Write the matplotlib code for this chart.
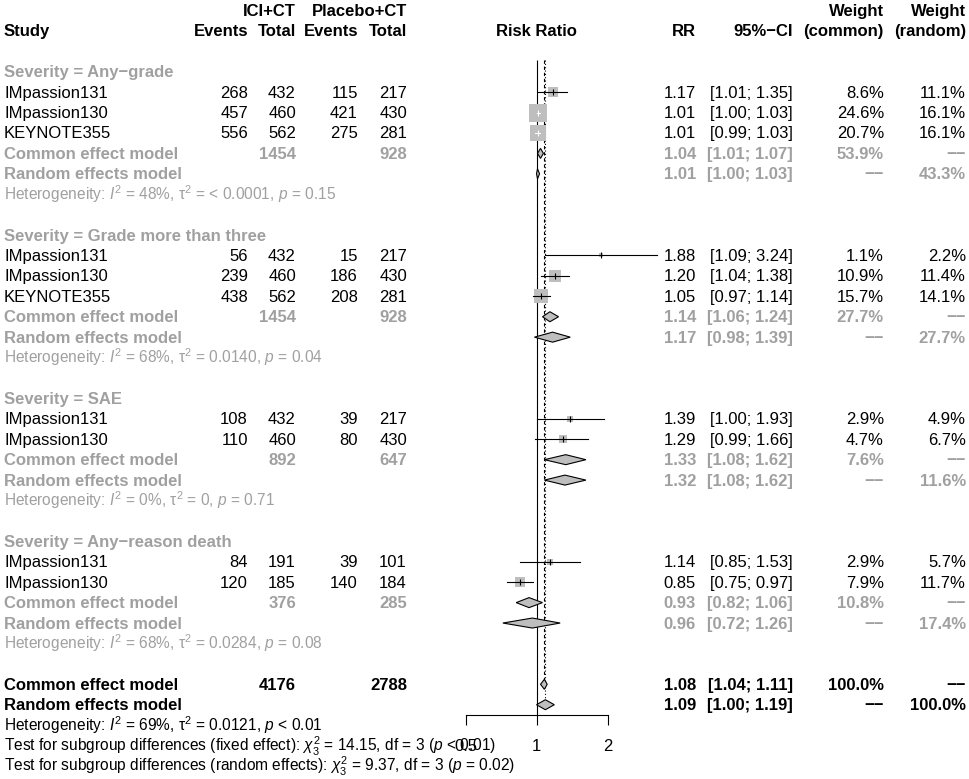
import matplotlib
matplotlib.use('Agg')
import matplotlib.pyplot as plt
from matplotlib.patches import Polygon
from matplotlib.ticker import NullLocator

plt.rcParams['font.family'] = ['Liberation Sans', 'DejaVu Sans']
plt.rcParams['mathtext.fontset'] = 'custom'
plt.rcParams['mathtext.rm'] = 'Liberation Sans'
plt.rcParams['mathtext.it'] = 'Liberation Sans:italic'
plt.rcParams['mathtext.bf'] = 'Liberation Sans:bold'

# ---------------- data ----------------
subgroups = ["Any\u2212grade", "Grade more than three", "SAE", "Any\u2212reason death"]
study_names = [["IMpassion131", "IMpassion130", "KEYNOTE355"],
               ["IMpassion131", "IMpassion130", "KEYNOTE355"],
               ["IMpassion131", "IMpassion130"],
               ["IMpassion131", "IMpassion130"]]
ici_events = [[268, 457, 556], [56, 239, 438], [108, 110], [84, 120]]
ici_total = [[432, 460, 562], [432, 460, 562], [432, 460], [191, 185]]
pla_events = [[115, 421, 275], [15, 186, 208], [39, 80], [39, 140]]
pla_total = [[217, 430, 281], [217, 430, 281], [217, 430], [101, 184]]
rr = [[1.17, 1.01, 1.01], [1.88, 1.20, 1.05], [1.39, 1.29], [1.14, 0.85]]
rr_lo = [[1.01, 1.00, 0.99], [1.09, 1.04, 0.97], [1.00, 0.99], [0.85, 0.75]]
rr_hi = [[1.35, 1.03, 1.03], [3.24, 1.38, 1.14], [1.93, 1.66], [1.53, 0.97]]
w_common = [[8.6, 24.6, 20.7], [1.1, 10.9, 15.7], [2.9, 4.7], [2.9, 7.9]]
w_random = [[11.1, 16.1, 16.1], [2.2, 11.4, 14.1], [4.9, 6.7], [5.7, 11.7]]
sub_total_ici = [1454, 1454, 892, 376]
sub_total_pla = [928, 928, 647, 285]
sub_common = [(1.04, 1.01, 1.07), (1.14, 1.06, 1.24), (1.33, 1.08, 1.62), (0.93, 0.82, 1.06)]
sub_common_w = [53.9, 27.7, 7.6, 10.8]
sub_random = [(1.01, 1.00, 1.03), (1.17, 0.98, 1.39), (1.32, 1.08, 1.62), (0.96, 0.72, 1.26)]
sub_random_w = [43.3, 27.7, 11.6, 17.4]
het_I2 = ["48%", "68%", "0%", "68%"]
het_tau2 = ["< 0.0001", "0.0140", "0", "0.0284"]
het_p = ["= 0.15", "= 0.04", "= 0.71", "= 0.08"]
overall_total_ici = 4176
overall_total_pla = 2788
overall_common = (1.08, 1.04, 1.11)
overall_random = (1.09, 1.00, 1.19)
overall_het = ("69%", "0.0121", "< 0.01")
test_fixed = ("14.15", "3", "< 0.01")
test_random = ("9.37", "3", "= 0.02")
x_ticks = [0.5, 1, 2]
x_ticklabels = ["0.5", "1", "2"]
missing = "\u2212\u2212"

# ---------------- layout / style ----------------
W, H = 969, 779
Y0, DY = 71.7, 20.42
AXIS_Y = 715
GRAY = '#A0A0A0'
FILL = '#BEBEBE'
FS = 12
FS_SMALL = 11.2
X_STUDY, X_E1, X_T1, X_E2, X_T2 = 4, 248, 296, 358, 407
X_RR, X_CI, X_WC, X_WR = 696, 793, 884, 966
X_FOREST = 536.5

fig = plt.figure(figsize=(W / 100, H / 100), dpi=100)
ax = fig.add_axes([0, 0, 1, 1])
ax.set_xlim(0, W)
ax.set_ylim(H, 0)
ax.axis('off')

fax = fig.add_axes([465.5 / W, (H - AXIS_Y) / H, 142 / W, AXIS_Y / H])
fax.set_xscale('log', base=2)
fax.set_xlim(0.5, 2)
fax.set_ylim(AXIS_Y, 0)
fax.patch.set_visible(False)
for s in ['top', 'left', 'right']:
    fax.spines[s].set_visible(False)
fax.spines['bottom'].set_linewidth(0.8)
fax.set_yticks([])
fax.set_xticks(x_ticks)
fax.set_xticklabels(x_ticklabels)
fax.xaxis.set_minor_locator(NullLocator())
fax.tick_params(axis='x', length=7.2, width=0.8, labelsize=FS, pad=10)


def rowy(k):
    return Y0 + DY * k


def put(x, k, s, ha='right', bold=False, color='black', size=FS, yoff=0):
    ax.text(x, rowy(k) + 5.5 + yoff, s, ha=ha, va='baseline',
            fontsize=size, fontweight='bold' if bold else 'normal', color=color)


def study_mark(est, lo, hi, w, y):
    side2 = 6.1 * w
    fax.scatter([est], [y], marker='s', s=side2, c=FILL, linewidths=0, zorder=3, clip_on=False)
    half = (side2 ** 0.5) * 100 / 72 / 2
    px_e = fax.transData.transform((est, y))[0]
    px_l = fax.transData.transform((lo, y))[0]
    px_h = fax.transData.transform((hi, y))[0]
    inside = (px_e - px_l) < half and (px_h - px_e) < half
    col = 'white' if inside else 'black'
    fax.plot([lo, hi], [y, y], color=col, lw=0.8, zorder=4, clip_on=False)
    fax.plot([est], [y], marker='|', ms=5, mew=0.8, color=col, zorder=4, clip_on=False)


def diamond(est, lo, hi, y, h=5):
    fax.add_patch(Polygon([(lo, y), (est, y - h), (hi, y), (est, y + h)], closed=True,
                          fc=FILL, ec='black', lw=0.8, zorder=5, clip_on=False))


def het_text(i2, tau2, p):
    return r"Heterogeneity: $I^2$ = " + i2 + ", \u03c4$^2$ = " + tau2 + r", $p$ " + p


# headers
put(X_T1, -3, "ICI+CT", bold=True)
put(X_T2, -3, "Placebo+CT", bold=True)
put(X_WC, -3, "Weight", bold=True)
put(X_WR, -3, "Weight", bold=True)
put(X_STUDY, -2, "Study", ha='left', bold=True)
put(X_E1, -2, "Events", bold=True)
put(X_T1, -2, "Total", bold=True)
put(X_E2, -2, "Events", bold=True)
put(X_T2, -2, "Total", bold=True)
put(X_FOREST, -2, "Risk Ratio", ha='center', bold=True)
put(X_RR, -2, "RR", bold=True)
put(X_CI, -2, "95%\u2212CI", bold=True)
put(X_WC, -2, "(common)", bold=True)
put(X_WR, -2, "(random)", bold=True)


def fmt_ci(lo, hi):
    return f"[{lo:.2f}; {hi:.2f}]"


k = 0
for g, name in enumerate(subgroups):
    put(X_STUDY, k, f"Severity = {name}", ha='left', bold=True, color=GRAY)
    k += 1
    for i, st in enumerate(study_names[g]):
        put(X_STUDY, k, st, ha='left')
        put(X_E1, k, str(ici_events[g][i]))
        put(X_T1, k, str(ici_total[g][i]))
        put(X_E2, k, str(pla_events[g][i]))
        put(X_T2, k, str(pla_total[g][i]))
        put(X_RR, k, f"{rr[g][i]:.2f}")
        put(X_CI, k, fmt_ci(rr_lo[g][i], rr_hi[g][i]))
        put(X_WC, k, f"{w_common[g][i]:.1f}%")
        put(X_WR, k, f"{w_random[g][i]:.1f}%")
        study_mark(rr[g][i], rr_lo[g][i], rr_hi[g][i], w_common[g][i], rowy(k))
        k += 1
    e, l, h = sub_common[g]
    put(X_STUDY, k, "Common effect model", ha='left', bold=True, color=GRAY)
    put(X_T1, k, str(sub_total_ici[g]), bold=True, color=GRAY)
    put(X_T2, k, str(sub_total_pla[g]), bold=True, color=GRAY)
    put(X_RR, k, f"{e:.2f}", bold=True, color=GRAY)
    put(X_CI, k, fmt_ci(l, h), bold=True, color=GRAY)
    put(X_WC, k, f"{sub_common_w[g]:.1f}%", bold=True, color=GRAY)
    put(X_WR, k, missing, bold=True, color=GRAY)
    diamond(e, l, h, rowy(k))
    k += 1
    e, l, h = sub_random[g]
    put(X_STUDY, k, "Random effects model", ha='left', bold=True, color=GRAY)
    put(X_RR, k, f"{e:.2f}", bold=True, color=GRAY)
    put(X_CI, k, fmt_ci(l, h), bold=True, color=GRAY)
    put(X_WC, k, missing, bold=True, color=GRAY)
    put(X_WR, k, f"{sub_random_w[g]:.1f}%", bold=True, color=GRAY)
    diamond(e, l, h, rowy(k))
    k += 1
    put(X_STUDY, k, het_text(het_I2[g], het_tau2[g], het_p[g]), ha='left', color=GRAY, size=FS_SMALL)
    k += 2

# overall
k_common = k
e, l, h = overall_common
put(X_STUDY, k, "Common effect model", ha='left', bold=True)
put(X_T1, k, str(overall_total_ici), bold=True)
put(X_T2, k, str(overall_total_pla), bold=True)
put(X_RR, k, f"{e:.2f}", bold=True)
put(X_CI, k, fmt_ci(l, h), bold=True)
put(X_WC, k, "100.0%", bold=True)
put(X_WR, k, missing, bold=True)
diamond(e, l, h, rowy(k))
k += 1
k_random = k
e, l, h = overall_random
put(X_STUDY, k, "Random effects model", ha='left', bold=True)
put(X_RR, k, f"{e:.2f}", bold=True)
put(X_CI, k, fmt_ci(l, h), bold=True)
put(X_WC, k, missing, bold=True)
put(X_WR, k, "100.0%", bold=True)
diamond(e, l, h, rowy(k))
k += 1
put(X_STUDY, k, het_text(*overall_het), ha='left', size=FS_SMALL)
k += 1
put(X_STUDY, k, r"Test for subgroup differences (fixed effect): $\chi^2_3$ = " + test_fixed[0]
    + ", df = " + test_fixed[1] + r" ($p$ " + test_fixed[2] + ")", ha='left', size=FS_SMALL)
k += 1
put(X_STUDY, k, r"Test for subgroup differences (random effects): $\chi^2_3$ = " + test_random[0]
    + ", df = " + test_random[1] + r" ($p$ " + test_random[2] + ")", ha='left', size=FS_SMALL)

# reference lines
fax.vlines(1, 60, AXIS_Y, color='black', lw=0.8, zorder=2)
fax.vlines(overall_common[0], 60, rowy(k_common), color='black', lw=0.8,
           linestyles=(0, (3, 2.5)), zorder=2)
fax.vlines(overall_random[0], 60, rowy(k_random), color='black', lw=0.8,
           linestyles=(0, (1, 2)), zorder=2)

fig.savefig('out.png', dpi=100)
